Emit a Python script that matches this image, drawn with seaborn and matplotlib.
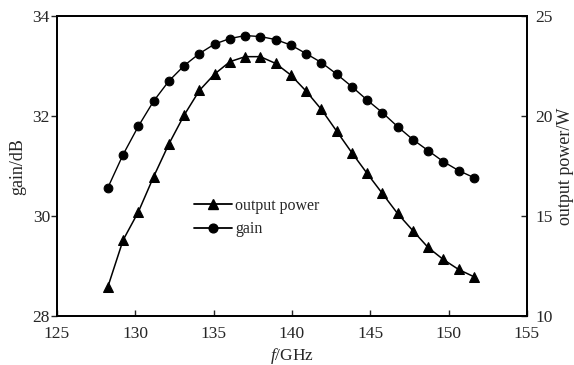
import matplotlib
matplotlib.use("Agg")
import matplotlib.pyplot as plt
from matplotlib.lines import Line2D
import seaborn as sns
import pandas as pd

# frequency points (GHz)
freq = [128.25, 129.22, 130.2, 131.17, 132.14, 133.12, 134.09, 135.06, 136.04,
        137.01, 137.98, 138.96, 139.93, 140.9, 141.88, 142.85, 143.82, 144.8,
        145.77, 146.74, 147.72, 148.69, 149.66, 150.64, 151.61]
# gain (dB), left axis
gain = [30.57, 31.23, 31.80, 32.30, 32.70, 33.01, 33.25, 33.44, 33.55,
        33.61, 33.59, 33.53, 33.42, 33.25, 33.07, 32.84, 32.59, 32.32,
        32.07, 31.79, 31.53, 31.31, 31.09, 30.91, 30.77]
# output power (W), right axis
power = [11.47, 13.80, 15.22, 16.97, 18.60, 20.05, 21.28, 22.10, 22.72,
         22.97, 22.97, 22.63, 22.05, 21.25, 20.33, 19.25, 18.17, 17.13,
         16.13, 15.13, 14.27, 13.43, 12.83, 12.33, 11.97]

df = pd.DataFrame({"freq": freq, "gain": gain, "power": power})

sns.set_style("ticks")
plt.rcParams["font.family"] = ["Liberation Serif", "DejaVu Serif"]
plt.rcParams["mathtext.fontset"] = "custom"
plt.rcParams["mathtext.it"] = "Liberation Serif:italic"
plt.rcParams["mathtext.rm"] = "Liberation Serif"

fig, ax = plt.subplots(figsize=(5.74, 3.65), dpi=100)
fig.subplots_adjust(left=0.0993, right=0.918, top=0.956, bottom=0.134)
ax2 = ax.twinx()

sns.lineplot(data=df, x="freq", y="gain", ax=ax, color="black", lw=1,
             marker="o", markersize=6.3, markeredgecolor="black")
sns.lineplot(data=df, x="freq", y="power", ax=ax2, color="black", lw=1.1,
             marker="^", markersize=6.5, markeredgecolor="black")

ax.set_xlim(125, 155)
ax.set_ylim(28, 34)
ax2.set_ylim(10, 25)
ax.set_xticks([125, 130, 135, 140, 145, 150, 155])
ax.set_yticks([28, 30, 32, 34])
ax2.set_yticks([10, 15, 20, 25])

ax.set_xlabel("$f$/GHz", fontsize=12.5)
ax.set_ylabel("gain/dB", fontsize=13)
ax2.set_ylabel("output power/W", fontsize=13)
ax.xaxis.set_label_coords(0.5, -0.1)
ax.yaxis.set_label_coords(-0.066, 0.5)
ax2.yaxis.set_label_coords(1.064, 0.5)

ax.tick_params(axis="x", direction="in", length=4, width=1, labelsize=12.5, pad=7)
ax.tick_params(axis="y", direction="out", length=4, width=1, labelsize=12.5, pad=1)
ax2.tick_params(axis="y", direction="in", length=4, width=1, labelsize=12.5, pad=6)

for a in (ax, ax2):
    for s in a.spines.values():
        s.set_visible(True)
        s.set_linewidth(1.3)
        s.set_color("black")

handles = [
    Line2D([], [], color="black", lw=1.3, marker="^", markersize=6.5),
    Line2D([], [], color="black", lw=1.3, marker="o", markersize=6.3),
]
leg = ax.legend(handles, ["output power", "gain"], loc="upper left",
                bbox_to_anchor=(0.277, 0.415), frameon=False, fontsize=11.5,
                handlelength=2.4, handletextpad=0.2, labelspacing=0.45,
                borderaxespad=0)

fig.savefig("out.png", dpi=100)
